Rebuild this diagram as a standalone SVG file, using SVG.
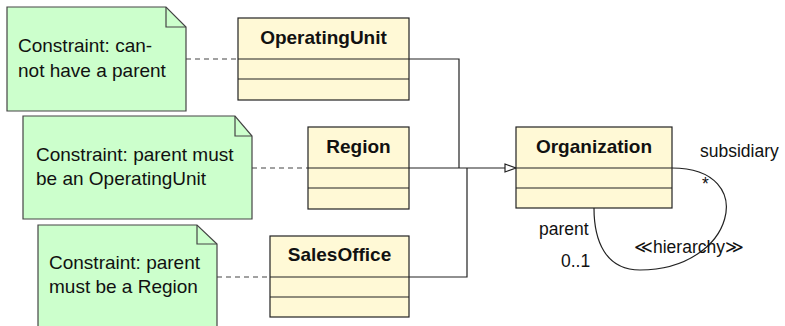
<svg xmlns="http://www.w3.org/2000/svg" width="785" height="326" viewBox="0 0 785 326">
<defs>
<style>
.note{fill:#ccffcc;stroke:#444;stroke-width:1.2}
.fold{fill:none;stroke:#444;stroke-width:1.2}
.cls{fill:#fff9d6;stroke:#222;stroke-width:1.2}
.div{stroke:#222;stroke-width:1.2}
.ntxt{font-family:"Liberation Sans",Arial,sans-serif;font-size:19px;fill:#111}
.title{font-family:"Liberation Sans",Arial,sans-serif;font-size:19px;font-weight:bold;fill:#111;text-anchor:middle}
.lbl{font-family:"Liberation Sans",Arial,sans-serif;font-size:17.5px;fill:#111}
.dash{fill:none;stroke:#444;stroke-width:1.2;stroke-dasharray:5,4}
.line{fill:none;stroke:#222;stroke-width:1.2}
</style>
<marker id="tri" markerWidth="14" markerHeight="10" refX="12" refY="5" orient="auto" markerUnits="userSpaceOnUse">
<path d="M1,1 L12,5 L1,9 Z" fill="#fff" stroke="#222" stroke-width="1.2"/>
</marker>
</defs>
<g id="connectors">
<path class="dash" d="M186,59 H238"/>
<path class="dash" d="M252,168 H308"/>
<path class="dash" d="M217,277 H270"/>
<path class="line" d="M409,59 H459 V168"/>
<path class="line" d="M409,277 H467 V168"/>
<path class="line" d="M409,168 H516" marker-end="url(#tri)"/>
<path class="line" d="M672,168 C760,168 735,270 640,270 C605,270 594,240 594,208"/>
<text class="lbl" x="700" y="157">subsidiary</text>
<text class="lbl" x="702" y="190">*</text>
<text class="lbl" x="539" y="235">parent</text>
<text class="lbl" x="561" y="267">0..1</text>
<text class="lbl" x="634" y="253">≪hierarchy≫</text>
</g>
<g id="note1">
<path class="note" d="M7,7 H166 L186,27 V111 H7 Z"/>
<path class="fold" d="M166,7 V27 H186"/>
<text class="ntxt" x="18" y="52">Constraint: can-</text>
<text class="ntxt" x="18" y="77">not have a parent</text>
</g>
<g id="note2">
<path class="note" d="M23,116 H235 L252,136 V219 H23 Z"/>
<path class="fold" d="M235,116 V136 H252"/>
<text class="ntxt" x="36" y="161">Constraint: parent must</text>
<text class="ntxt" x="36" y="185">be an OperatingUnit</text>
</g>
<g id="note3">
<path class="note" d="M38,225 H197 L217,244 V330 H38 Z"/>
<path class="fold" d="M197,225 V244 H217"/>
<text class="ntxt" x="49" y="269">Constraint: parent</text>
<text class="ntxt" x="49" y="293">must be a Region</text>
</g>
<g id="OperatingUnit">
<rect class="cls" x="238" y="18" width="171" height="82"/>
<line class="div" x1="238" y1="59" x2="409" y2="59"/>
<line class="div" x1="238" y1="79" x2="409" y2="79"/>
<text class="title" x="323.5" y="44">OperatingUnit</text>
</g>
<g id="Region">
<rect class="cls" x="308" y="127" width="101" height="82"/>
<line class="div" x1="308" y1="168" x2="409" y2="168"/>
<line class="div" x1="308" y1="188" x2="409" y2="188"/>
<text class="title" x="358.5" y="153">Region</text>
</g>
<g id="SalesOffice">
<rect class="cls" x="270" y="236" width="139" height="81"/>
<line class="div" x1="270" y1="277" x2="409" y2="277"/>
<line class="div" x1="270" y1="297" x2="409" y2="297"/>
<text class="title" x="339.5" y="261">SalesOffice</text>
</g>
<g id="Organization">
<rect class="cls" x="516" y="127" width="156" height="81"/>
<line class="div" x1="516" y1="168" x2="672" y2="168"/>
<line class="div" x1="516" y1="188" x2="672" y2="188"/>
<text class="title" x="594" y="153">Organization</text>
</g>
</svg>
